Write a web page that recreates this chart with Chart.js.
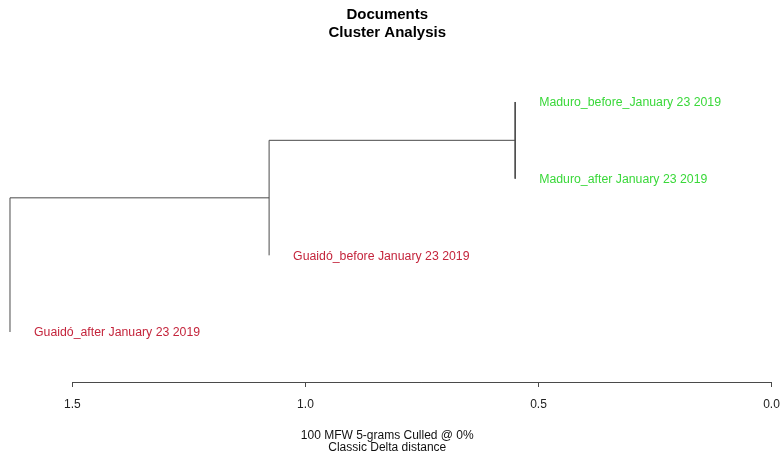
<!DOCTYPE html>
<html>
<head>
<meta charset="utf-8">
<script src="https://cdn.jsdelivr.net/npm/chart.js@4/dist/chart.umd.min.js"></script>
<style>
  body { margin: 0; background: #fff; }
  #wrap { width: 783px; height: 459px; }
</style>
</head>
<body>
<div id="wrap"><canvas id="dendro" width="783" height="459"></canvas></div>
<script>
// leaves, top to bottom
const leafLabels = [
    'Maduro_before_January 23 2019',
    'Maduro_after January 23 2019',
    'Guaidó_before January 23 2019',
    'Guaidó_after January 23 2019'
];
const leafGroups = ['Maduro', 'Maduro', 'Guaidó', 'Guaidó'];
// hclust-style merges: negative = leaf number, positive = earlier merge
const mergePairs = [[-1, -2], [-3, 1], [-4, 2]];
const mergeHeights = [0.550, 1.078, 1.634];
const tickValues = [1.5, 1.0, 0.5, 0.0];

const groupColors = { 'Maduro': '#3ad83a', 'Guaidó': '#c4253c' };
const lineColor = '#4a4a4a';

// node positions (x = height, y = leaf slot)
const nodeY = [];
const segments = [];
const leafX = [];
function childY(c) { return c < 0 ? -c : nodeY[c - 1]; }
mergePairs.forEach((pair, i) => {
    const h = mergeHeights[i];
    const ya = childY(pair[0]);
    const yb = childY(pair[1]);
    nodeY[i] = (ya + yb) / 2;
    segments.push([{ x: h, y: ya }, { x: h, y: yb }]);
    pair.forEach(c => {
        if (c < 0) {
            leafX[-c - 1] = h;
        } else {
            segments.push([{ x: h, y: nodeY[c - 1] }, { x: mergeHeights[c - 1], y: nodeY[c - 1] }]);
        }
    });
});

const datasets = segments.map(seg => ({
    data: seg,
    showLine: true,
    borderColor: lineColor,
    borderWidth: 1,
    pointRadius: 0,
    pointHoverRadius: 0
}));

const leafLabelPlugin = {
    id: 'leafLabels',
    afterDatasetsDraw(chart) {
        const ctx = chart.ctx;
        const xs = chart.scales.x;
        const ys = chart.scales.y;
        ctx.save();
        ctx.font = '12.3px "Liberation Sans", Arial, sans-serif';
        ctx.textAlign = 'left';
        ctx.textBaseline = 'middle';
        leafLabels.forEach((lab, i) => {
            ctx.fillStyle = groupColors[leafGroups[i]];
            ctx.fillText(lab, xs.getPixelForValue(leafX[i]) + 24, ys.getPixelForValue(i + 1) + 1);
        });
        ctx.restore();
    }
};

// axis line only between first and last tick, like R
const axisLinePlugin = {
    id: 'axisLine',
    afterDraw(chart) {
        const xs = chart.scales.x;
        const ctx = chart.ctx;
        const y = Math.round(chart.chartArea.bottom) + 0.5;
        ctx.save();
        ctx.strokeStyle = lineColor;
        ctx.lineWidth = 1;
        ctx.beginPath();
        ctx.moveTo(xs.getPixelForValue(Math.max(...tickValues)), y);
        ctx.lineTo(xs.getPixelForValue(Math.min(...tickValues)), y);
        ctx.stroke();
        ctx.restore();
    }
};

new Chart(document.getElementById('dendro'), {
    type: 'scatter',
    data: { datasets: datasets },
    options: {
        responsive: false,
        animation: false,
        layout: { padding: { left: 3, right: 11.5, top: 0, bottom: 5 } },
        plugins: {
            legend: { display: false },
            tooltip: { enabled: false },
            title: {
                display: true,
                text: ['Documents', 'Cluster Analysis'],
                color: '#000',
                font: { family: '"Liberation Sans", Arial, sans-serif', size: 15, weight: 'bold', lineHeight: 1.2 },
                padding: { top: 6, bottom: 8 }
            }
        },
        scales: {
            x: {
                type: 'linear',
                reverse: true,
                min: 0,
                max: 1.649,
                afterBuildTicks: scale => { scale.ticks = tickValues.map(v => ({ value: v })); },
                afterFit: scale => { scale.paddingLeft = 0; scale.paddingRight = 0; },
                ticks: {
                    color: '#222',
                    padding: 10,
                    maxRotation: 0,
                    font: { family: '"Liberation Sans", Arial, sans-serif', size: 12, lineHeight: 1.2 },
                    callback: v => Number(v).toFixed(1)
                },
                grid: { display: true, drawOnChartArea: false, drawTicks: true, tickLength: 5, color: lineColor },
                border: { display: false },
                title: {
                    display: true,
                    text: ['100 MFW 5-grams Culled @ 0%', 'Classic Delta distance'],
                    color: '#111',
                    font: { family: '"Liberation Sans", Arial, sans-serif', size: 12, lineHeight: 1 },
                    padding: { top: 8.6, bottom: 0 }
                }
            },
            y: {
                type: 'linear',
                display: false,
                reverse: true,
                min: 0.322,
                max: 4.652
            }
        }
    },
    plugins: [leafLabelPlugin, axisLinePlugin]
});
</script>
</body>
</html>
